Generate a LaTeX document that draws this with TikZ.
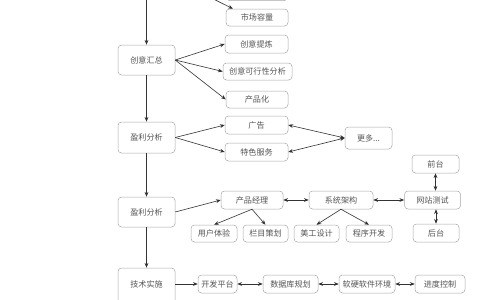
\documentclass[tikz,border=0pt]{standalone}
\usepackage{fontspec}
\newfontfamily\cjk{Noto Sans CJK SC}
\usetikzlibrary{arrows.meta}
\definecolor{boxline}{HTML}{A8A8A8}
\definecolor{txt}{HTML}{555555}
\definecolor{ln}{HTML}{333333}
\begin{document}
\begin{tikzpicture}[x=1pt,y=-1pt,
  bx/.style={draw=boxline,line width=0.5pt,rounded corners=3.5pt,fill=white,
    inner sep=0pt,text=txt,font=\cjk\fontsize{8.1}{9}\selectfont},
  arr/.style={draw=ln,line width=0.6pt,-{Stealth[length=4.8pt,width=3.8pt]}},
  darr/.style={draw=ln,line width=0.6pt,{Stealth[length=4.8pt,width=3.8pt]}-{Stealth[length=4.8pt,width=3.8pt]}}]
\useasboundingbox (0,0) rectangle (480,300);
\clip (0,0) rectangle (480,300);
\fill[white] (0,0) rectangle (480,300);
% nodes
\node[bx,minimum width=57pt,minimum height=30pt] (top0) at (146.5,-20) {};
\node[bx,minimum width=62pt,minimum height=17pt] (topb) at (257,-8) {};
\node[bx,minimum width=62pt,minimum height=17pt] (sc) at (257,17.5) {市场容量};
\node[bx,minimum width=57pt,minimum height=30pt] (hz) at (146.5,60) {创意汇总};
\node[bx,minimum width=63pt,minimum height=18pt] (tl) at (256.5,44) {创意提炼};
\node[bx,minimum width=69pt,minimum height=17pt] (kx) at (257.5,71.5) {创意可行性分析};
\node[bx,minimum width=62pt,minimum height=17pt] (cp) at (257,99.5) {产品化};
\node[bx,minimum width=57pt,minimum height=31pt] (yl1) at (146.5,137.5) {盈利分析};
\node[bx,minimum width=63pt,minimum height=18pt] (gg) at (256.5,125) {广告};
\node[bx,minimum width=63pt,minimum height=18pt] (ts) at (256.5,152) {特色服务};
\node[bx,minimum width=47pt,minimum height=22pt] (gd) at (368.5,138) {更多...};
\node[bx,minimum width=47pt,minimum height=18pt] (qt) at (435.5,164) {前台};
\node[bx,minimum width=57pt,minimum height=30pt] (yl2) at (146.5,212) {盈利分析};
\node[bx,minimum width=62pt,minimum height=18pt] (pm) at (252,200) {产品经理};
\node[bx,minimum width=64pt,minimum height=18pt] (xt) at (341,200) {系统架构};
\node[bx,minimum width=56pt,minimum height=18pt] (wz) at (432.5,200) {网站测试};
\node[bx,minimum width=46pt,minimum height=18pt] (ht) at (436,233) {后台};
\node[bx,minimum width=46pt,minimum height=17pt] (yh) at (214,233.5) {用户体验};
\node[bx,minimum width=45pt,minimum height=17pt] (lm) at (265.5,233.5) {栏目策划};
\node[bx,minimum width=45pt,minimum height=17pt] (mg) at (316.5,233.5) {美工设计};
\node[bx,minimum width=46pt,minimum height=17pt] (cx) at (369,233.5) {程序开发};
\node[bx,minimum width=57pt,minimum height=40pt] (js) at (146.5,288) {};
\node[bx,draw=none,fill=none] (jst) at (146.5,284) {技术实施};
\node[bx,minimum width=39pt,minimum height=18pt] (kf) at (217.5,284) {开发平台};
\node[bx,minimum width=55pt,minimum height=18pt] (sj) at (290.5,284) {数据库规划};
\node[bx,minimum width=56pt,minimum height=18pt] (rj) at (367,284) {软硬软件环境};
\node[bx,minimum width=50pt,minimum height=18pt] (jd) at (440,284) {进度控制};
% connectors
\draw[arr] (top0) -- (hz);
\draw[arr] (hz) -- (yl1);
\draw[arr] (yl1) -- (yl2);
\draw[arr] (yl2) -- (js);
\draw[arr] (top0.east) -- (sc.160);
\draw[arr] (hz.east) -- (tl.west);
\draw[arr] (hz.east) -- (kx.west);
\draw[arr] (hz.east) -- (cp.west);
\draw[arr] (yl1.east) -- (gg.west);
\draw[arr] (yl1.east) -- (ts.west);
\draw[darr] (gg.east) -- (gd.west);
\draw[darr] (ts.east) -- (gd.west);
\draw[arr] (yl2.east) -- (pm.west);
\draw[arr] (pm.south) -- (yh.north);
\draw[arr] (pm.south) -- (lm.north);
\draw[arr] (xt.south) -- (mg.north);
\draw[arr] (xt.south) -- (cx.north);
\draw[darr] (pm) -- (xt);
\draw[darr] (xt) -- (wz);
\draw[darr] (qt.south) -- (qt.south |- wz.north);
\draw[darr] (ht.north |- wz.south) -- (ht.north);
\draw[arr] (kf.west -| js.east) -- (kf.west);
\draw[darr] (kf) -- (sj);
\draw[darr] (sj) -- (rj);
\draw[darr] (rj) -- (jd);
\end{tikzpicture}
\end{document}
